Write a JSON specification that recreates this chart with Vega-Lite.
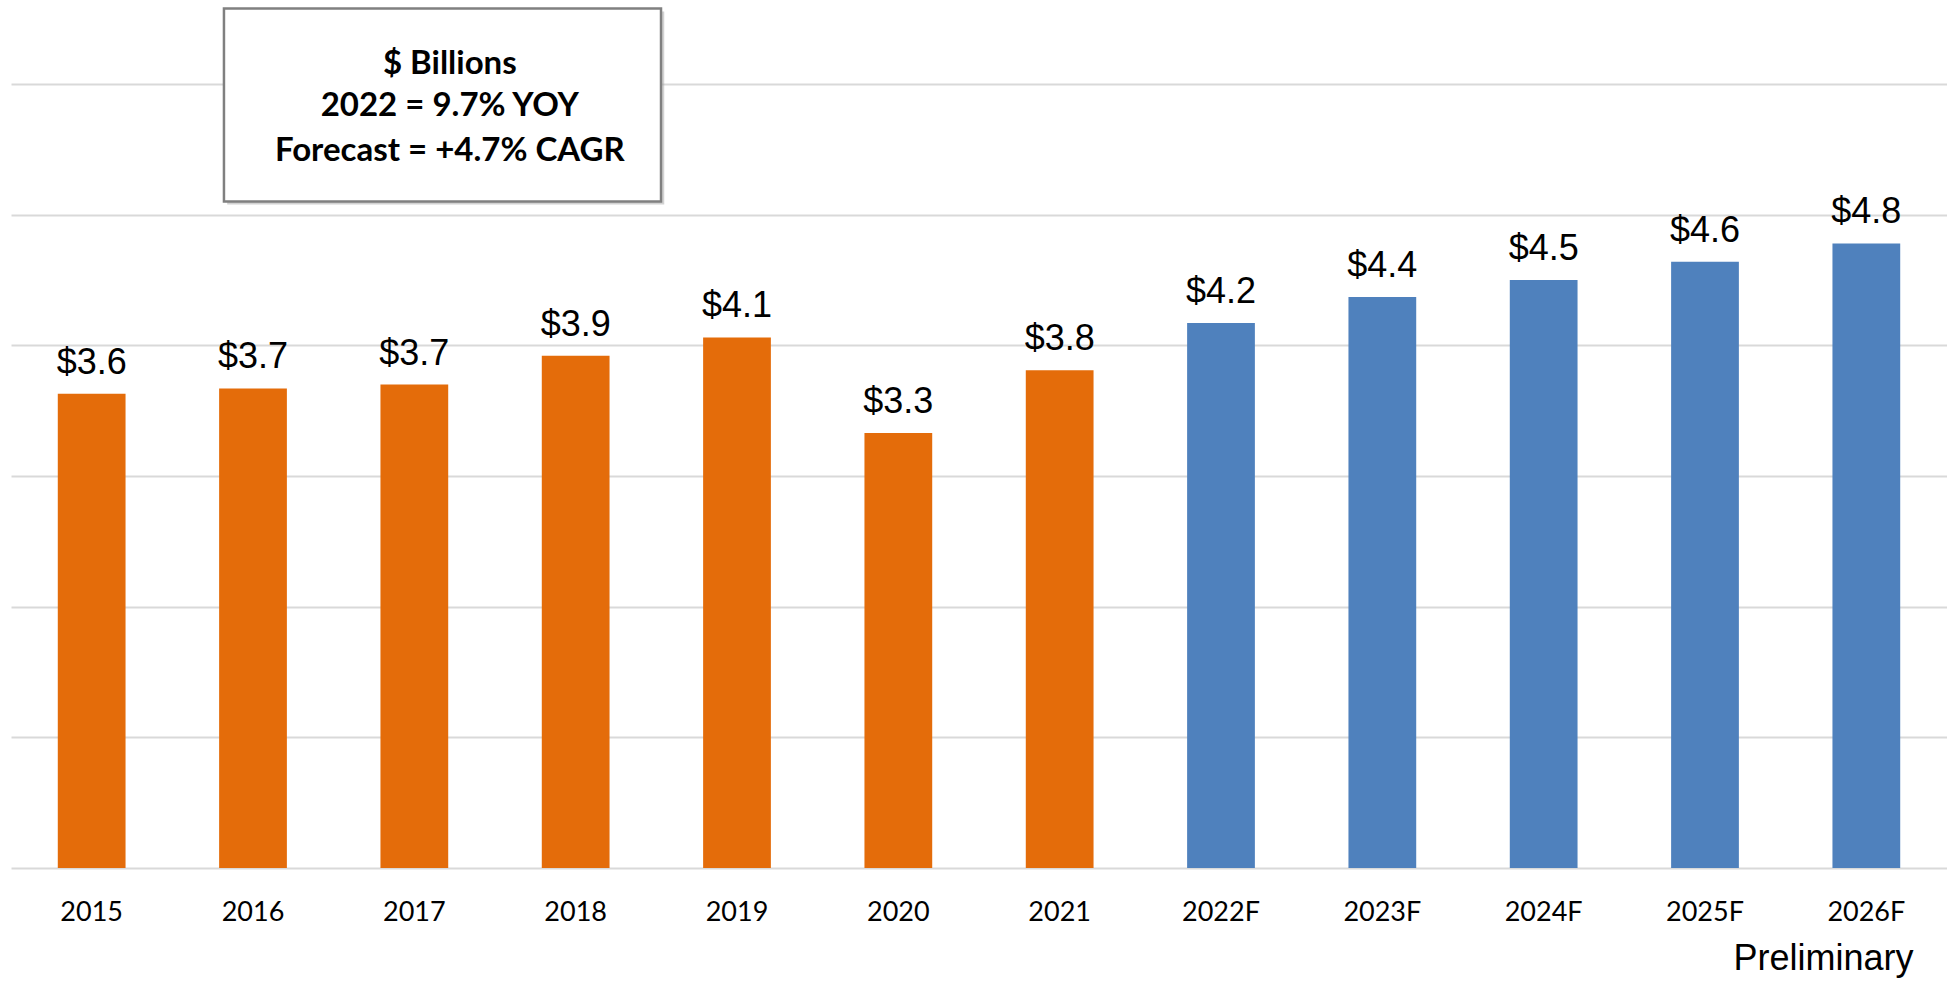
{
  "$schema": "https://vega.github.io/schema/vega-lite/v6.json",
  "width": 1936,
  "height": 784,
  "autosize": "none",
  "padding": {"left": 11, "top": 84, "right": 0, "bottom": 113},
  "background": "white",
  "config": {"view": {"stroke": null}},
  "datasets": {
    "sales": [
      {"year": "2015", "value": 3.63, "type": "Actual"},
      {"year": "2016", "value": 3.67, "type": "Actual"},
      {"year": "2017", "value": 3.70, "type": "Actual"},
      {"year": "2018", "value": 3.92, "type": "Actual"},
      {"year": "2019", "value": 4.06, "type": "Actual"},
      {"year": "2020", "value": 3.33, "type": "Actual"},
      {"year": "2021", "value": 3.81, "type": "Actual"},
      {"year": "2022F", "value": 4.17, "type": "Forecast"},
      {"year": "2023F", "value": 4.37, "type": "Forecast"},
      {"year": "2024F", "value": 4.50, "type": "Forecast"},
      {"year": "2025F", "value": 4.64, "type": "Forecast"},
      {"year": "2026F", "value": 4.78, "type": "Forecast"}
    ],
    "box": [
      {"part": "shadow", "x1": 1.340, "x2": 4.049, "y1": 6.555, "y2": 5.077},
      {"part": "box", "x1": 1.320, "x2": 4.029, "y1": 6.578, "y2": 5.100}
    ],
    "notes": [
      {"line": "$ Billions", "xp": 2.72, "yp": 6.08},
      {"line": "2022 = 9.7% YOY", "xp": 2.72, "yp": 5.754},
      {"line": "Forecast = +4.7% CAGR", "xp": 2.72, "yp": 5.409}
    ]
  },
  "layer": [
    {
      "data": {"name": "sales"},
      "layer": [
        {
          "mark": {"type": "bar", "width": {"band": 1}},
          "encoding": {
            "x": {
              "field": "year", "type": "nominal", "sort": null,
              "scale": {"paddingInner": 0.58, "paddingOuter": 0.29},
              "axis": {
                "title": "Preliminary",
                "titleAnchor": "end", "titleAlign": "right",
                "titleX": 1902, "titleY": 101, "titleBaseline": "alphabetic",
                "titleFont": "Liberation Sans", "titleFontSize": 36, "titleFontWeight": "normal", "titleColor": "#000000",
                "labelAngle": 0, "labelFont": "Lato", "labelFontSize": 27, "labelColor": "#000000",
                "labelBaseline": "alphabetic", "labelPadding": 52,
                "ticks": false, "tickSize": 0, "domain": false, "grid": false
              }
            },
            "y": {
              "field": "value", "type": "quantitative",
              "scale": {"domain": [0, 6], "nice": false},
              "axis": {
                "title": null, "labels": false, "ticks": false, "domain": false,
                "grid": true, "values": [0, 1, 2, 3, 4, 5, 6],
                "gridColor": "#d9d9d9", "gridWidth": 2
              }
            },
            "color": {
              "field": "type", "type": "nominal",
              "scale": {"domain": ["Actual", "Forecast"], "range": ["#E46C0A", "#4F81BD"]},
              "legend": null
            }
          }
        },
        {
          "mark": {"type": "text", "baseline": "alphabetic", "dy": -20, "font": "Liberation Sans", "fontSize": 36, "color": "#000000"},
          "encoding": {
            "x": {"field": "year", "type": "nominal", "sort": null},
            "y": {"field": "value", "type": "quantitative", "scale": {"domain": [0, 6], "nice": false}},
            "text": {"field": "value", "type": "quantitative", "format": "$.1f"}
          }
        }
      ]
    },
    {
      "data": {"name": "box"},
      "layer": [
        {
          "transform": [{"filter": "datum.part === 'shadow'"}],
          "mark": {"type": "rect", "color": "#a6a6a6", "opacity": 0.5},
          "encoding": {
            "x": {"field": "x1", "type": "quantitative", "scale": {"domain": [0, 12], "nice": false, "zero": false}, "axis": null},
            "x2": {"field": "x2"},
            "y": {"field": "y1", "type": "quantitative", "scale": {"domain": [0, 6], "nice": false}},
            "y2": {"field": "y2"}
          }
        },
        {
          "transform": [{"filter": "datum.part === 'box'"}],
          "mark": {"type": "rect", "fill": "white", "stroke": "#808080", "strokeWidth": 2.5},
          "encoding": {
            "x": {"field": "x1", "type": "quantitative", "scale": {"domain": [0, 12], "nice": false, "zero": false}, "axis": null},
            "x2": {"field": "x2"},
            "y": {"field": "y1", "type": "quantitative", "scale": {"domain": [0, 6], "nice": false}},
            "y2": {"field": "y2"}
          }
        }
      ]
    },
    {
      "data": {"name": "notes"},
      "mark": {"type": "text", "baseline": "alphabetic", "align": "center", "font": "Lato", "fontWeight": "bold", "fontSize": 33, "color": "#000000"},
      "encoding": {
        "x": {"field": "xp", "type": "quantitative", "scale": {"domain": [0, 12], "nice": false, "zero": false}, "axis": null},
        "y": {"field": "yp", "type": "quantitative", "scale": {"domain": [0, 6], "nice": false}},
        "text": {"field": "line", "type": "nominal"}
      }
    }
  ],
  "resolve": {"scale": {"x": "independent"}}
}
